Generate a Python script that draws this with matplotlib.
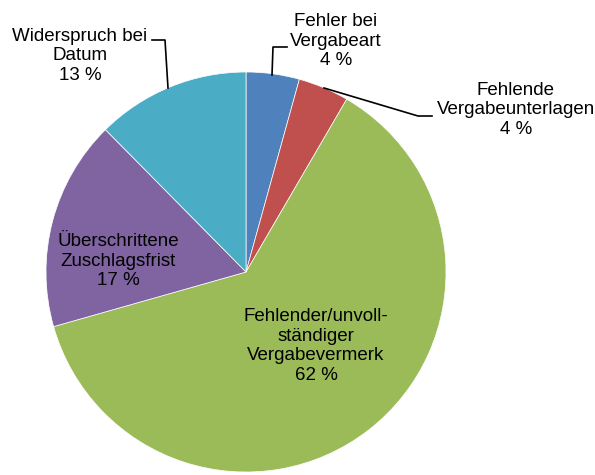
import matplotlib.pyplot as plt

plt.rcParams['font.family'] = ['Liberation Sans', 'DejaVu Sans']

# Daten
labels = ['Fehler bei\nVergabeart', 'Fehlende\nVergabeunterlagen',
          'Fehlender/unvoll-\nständiger\nVergabevermerk',
          'Überschrittene\nZuschlagsfrist', 'Widerspruch bei\nDatum']
values = [4.3, 4.1, 62.2, 17.0, 12.4]
pct_labels = ['4 %', '4 %', '62 %', '17 %', '13 %']
colors = ['#4F81BD', '#C0504D', '#9BBB59', '#8064A2', '#4BACC6']

W, H = 595, 475
fig = plt.figure(figsize=(W / 100, H / 100), dpi=100)
ax = fig.add_axes([0, 0, 1, 1])

def py(y):  # Pixel-y von oben -> Datenkoordinate
    return H - y

ax.pie(values, colors=colors, startangle=90, counterclock=False,
       center=(246, py(272)), radius=200, frame=True,
       wedgeprops=dict(edgecolor='white', linewidth=0.5))
ax.set_xlim(0, W)
ax.set_ylim(0, H)
ax.set_aspect('equal')
ax.axis('off')

# Beschriftungspositionen (Pixel)
text_pos = [(336, 41), (516, 110), (316, 346), (118, 261), (80, 56)]
for lab, pct, (x, y) in zip(labels, pct_labels, text_pos):
    ax.text(x, py(y), lab + '\n' + pct, ha='center', va='center',
            fontsize=13.5, linespacing=1.2, color='black')

# Führungslinien (Pixel)
leaders = [
    [(272, 75), (273, 47), (287, 47)],
    [(324, 88), (418, 116), (432, 116)],
    [(168, 88), (165, 40), (152, 40)],
]
for pts in leaders:
    xs = [p[0] for p in pts]
    ys = [py(p[1]) for p in pts]
    ax.plot(xs, ys, color='black', linewidth=1.2)

fig.savefig('out.png', dpi=100)
